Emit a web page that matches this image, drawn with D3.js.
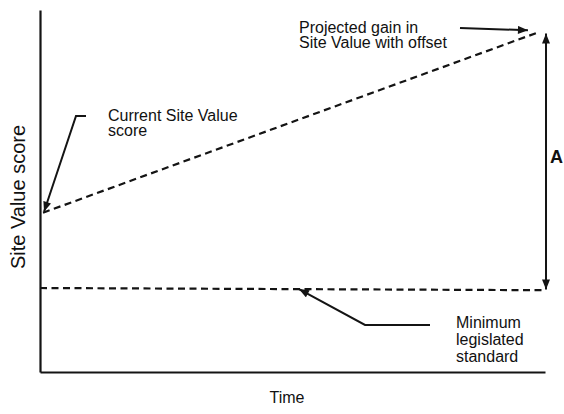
<!DOCTYPE html>
<html>
<head>
<meta charset="utf-8">
<script src="https://cdn.jsdelivr.net/npm/d3@7"></script>
<style>
    html, body { margin: 0; padding: 0; background: #fff; }
    svg { display: block; font-family: "Liberation Sans", Arial, Helvetica, sans-serif; }
    text { fill: #111; }
</style>
</head>
<body>
<svg id="chart" width="564" height="414"></svg>
<script>
// Time is on an abstract 0..100 scale, score too
var timeDomain = [0, 100];
var scoreDomain = [0, 100];

// Projected gain in Site Value with offset
var projectedTime = [0.6, 99];
var projectedScore = [44, 94];

// Minimum legislated standard
var minimumTime = [0, 99.6];
var minimumScore = [23.2, 22.6];

// Gap "A" between the two end points
var gapTime = [100.2, 100.2];
var gapScore = [22.8, 93.5];

var xLabel = "Time";
var yLabel = "Site Value score";
var gapLabel = "A";
var currentLabel = ["Current Site Value", "score"];
var projectedLabel = ["Projected gain in", "Site Value with offset"];
var minimumLabel = ["Minimum", "legislated", "standard"];

window.addEventListener("load", function () {
    drawChart();
});

function drawChart() {
    var svg = d3.select("#chart");
    var ink = "#141414";

    var x = d3.scaleLinear().domain(timeDomain).range([40, 545]);
    var y = d3.scaleLinear().domain(scoreDomain).range([372, 10]);

    // Arrow head
    svg.append("defs").append("marker")
        .attr("id", "head")
        .attr("viewBox", "0 0 10 8")
        .attr("refX", 10)
        .attr("refY", 4)
        .attr("markerUnits", "userSpaceOnUse")
        .attr("markerWidth", 11)
        .attr("markerHeight", 8)
        .attr("orient", "auto-start-reverse")
        .append("path")
        .attr("d", "M0,0 L10,4 L0,8 Z")
        .attr("fill", ink);

    // Axes, no ticks
    svg.append("g")
        .attr("transform", "translate(0," + y(0) + ")")
        .call(d3.axisBottom(x).ticks(0).tickSizeOuter(0))
        .call(function (g) { g.select(".domain").attr("stroke", ink).attr("stroke-width", 2.2); });

    svg.append("g")
        .attr("transform", "translate(" + x(0) + ",0)")
        .call(d3.axisLeft(y).ticks(0).tickSizeOuter(0))
        .call(function (g) { g.select(".domain").attr("stroke", ink).attr("stroke-width", 2.2); });

    var line = d3.line()
        .x(function (d) { return x(d[0]); })
        .y(function (d) { return y(d[1]); });

    var series = [d3.zip(projectedTime, projectedScore), d3.zip(minimumTime, minimumScore)];

    svg.selectAll(".series")
        .data(series)
        .enter().append("path")
        .attr("class", "series")
        .attr("d", line)
        .attr("fill", "none")
        .attr("stroke", ink)
        .attr("stroke-width", 2.2)
        .attr("stroke-dasharray", "7,4.5");

    // Double arrow "A"
    svg.append("path")
        .attr("d", line(d3.zip(gapTime, gapScore)))
        .attr("stroke", ink)
        .attr("stroke-width", 2)
        .attr("marker-start", "url(#head)")
        .attr("marker-end", "url(#head)");

    svg.append("text")
        .attr("x", x(gapTime[0]) + 4)
        .attr("y", 163)
        .style("font-size", "18px")
        .style("font-weight", "bold")
        .text(gapLabel);

    // Pointer from labels to lines
    var pointers = [
        [[86, 116], [76, 116], [x(projectedTime[0]) + 1, y(projectedScore[0]) - 1]],
        [[460, 28], [x(projectedTime[1]) - 12, y(projectedScore[1]) - 1.5]],
        [[430, 325], [365, 325], [299, y(d3.mean(minimumScore))]]
    ];

    svg.selectAll(".pointer")
        .data(pointers)
        .enter().append("path")
        .attr("class", "pointer")
        .attr("d", d3.line())
        .attr("fill", "none")
        .attr("stroke", ink)
        .attr("stroke-width", 2)
        .attr("marker-end", "url(#head)");

    // Text blocks
    addLines(svg, currentLabel, 108, 120.5, 15);
    addLines(svg, projectedLabel, 299, 33, 15);
    addLines(svg, minimumLabel, 456, 328.3, 16.7);

    svg.append("text")
        .attr("x", 287)
        .attr("y", 403)
        .attr("text-anchor", "middle")
        .style("font-size", "16px")
        .text(xLabel);

    svg.append("text")
        .attr("transform", "translate(25,197) rotate(-90)")
        .attr("text-anchor", "middle")
        .style("font-size", "20px")
        .text(yLabel);
}

function addLines(svg, lines, left, top, step) {
    svg.append("text")
        .style("font-size", "16px")
        .selectAll("tspan")
        .data(lines)
        .enter().append("tspan")
        .attr("x", left)
        .attr("y", function (d, i) { return top + i * step; })
        .text(function (d) { return d; });
}
</script>
</body>
</html>
